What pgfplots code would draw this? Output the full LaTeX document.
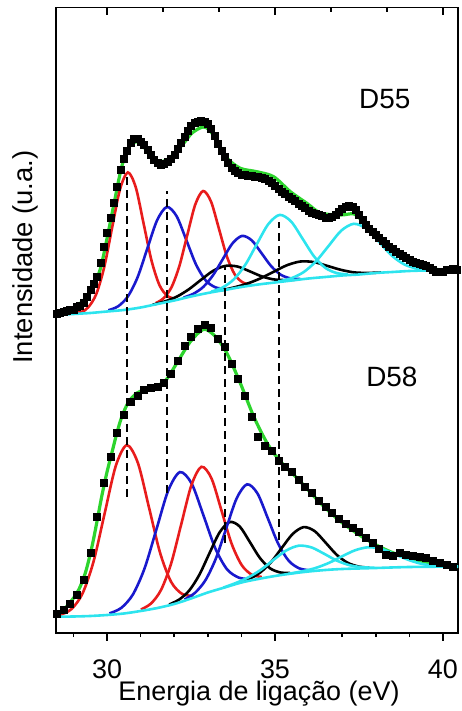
\documentclass[border=0pt]{standalone}
\usepackage{fontspec}
\setmainfont{Liberation Sans}
\usepackage{pgfplots}
\pgfplotsset{compat=1.18}

\definecolor{fitred}{RGB}{232,28,28}
\definecolor{fitblue}{RGB}{25,25,205}
\definecolor{fitcyan}{RGB}{45,228,238}
\definecolor{fitgreen}{RGB}{45,212,45}

\pgfplotsset{
  comp/.style={smooth, tension=0.5, line width=2.6bp, no markers},
  env/.style={smooth, tension=0.5, line width=3.2bp, fitgreen, no markers},
  meas/.style={only marks, mark=square*, mark size=3.5bp, black},
  guide/.style={black, line width=2bp, dash pattern=on 8bp off 5bp, no markers},
}

\begin{document}
\begin{tikzpicture}
\begin{axis}[
  at={(0,0)}, anchor=south west,
  scale only axis, width=402bp, height=625.5bp,
  xmin=28.48, xmax=40.45, ymin=0, ymax=625.5,
  axis line style={line width=1.6bp},
  xtick={30,35,40}, xticklabels={30,35,40},
  minor xtick={29,31,32,33,34,36,37,38,39},
  xtick pos=lower, tick align=outside,
  major tick length=7.5bp, minor tick length=4bp,
  tick style={line width=1.6bp, black},
  ytick=\empty,
  xticklabel style={font=\fontsize{27}{27}\selectfont, anchor=base, yshift=-38bp},
  xlabel={Energia de ligação (eV)},
  ylabel={Intensidade (u.a.)},
  every axis x label/.style={at={(axis description cs:0.505,0)}, anchor=base, yshift=-67bp, font=\fontsize{27}{27}\selectfont},
  every axis y label/.style={at={(axis description cs:-0.0771,0.601)}, anchor=center, rotate=90, font=\fontsize{27.5}{27.5}\selectfont},
]

% ---------------- D55 (upper spectrum) ----------------
\addplot[meas] coordinates {
(28.5,319.5)(28.6,320)(28.7,321.5)(28.8,322)(28.9,323)(29.0,323.5)(29.1,326)(29.2,327)(29.3,330)(29.4,336)
(29.5,343)(29.6,349)(29.7,356)(29.8,370)(29.9,386)(30.0,400)(30.1,415)(30.2,430)(30.3,446)(30.4,463)
(30.5,474)(30.6,482)(30.7,490)(30.8,494)(30.9,494)(31.0,491)(31.1,488)(31.2,483)(31.3,478)(31.4,473)
(31.5,470)(31.6,468)(31.7,469)(31.8,471)(31.9,474)(32.0,478)(32.1,484)(32.2,490)(32.3,496)(32.4,502)
(32.5,507)(32.6,510)(32.7,511)(32.8,512)(32.9,511)(33.0,509)(33.1,504)(33.2,497)(33.3,489)(33.4,482)
(33.5,476)(33.6,470)(33.7,465)(33.8,462)(33.9,460)(34.0,458)(34.1,458)(34.2,457)(34.3,457)(34.4,456)
(34.5,456)(34.6,455)(34.7,454)(34.8,452)(34.9,450)(35.0,447)(35.1,444)(35.2,441)(35.3,439)(35.4,436)
(35.5,434)(35.6,432)(35.7,429)(35.8,427)(35.9,425)(36.0,422)(36.1,420)(36.2,419)(36.3,418)(36.4,417)
(36.5,415)(36.6,415)(36.7,416)(36.8,418)(36.9,421)(37.0,424)(37.1,426)(37.2,427)(37.3,426)(37.4,423)
(37.5,418)(37.6,413)(37.7,408)(37.8,404)(37.9,401)(38.0,398)(38.1,395)(38.2,392)(38.3,389)(38.4,386)
(38.5,384)(38.6,381)(38.7,379)(38.8,377)(38.9,375)(39.0,373)(39.1,371)(39.2,370)(39.3,369)(39.4,368)
(39.5,367)(39.6,365)(39.7,363)(39.8,361)(39.9,361)(40.0,361)(40.1,363)(40.2,363)(40.3,364)(40.4,363)
};
\addplot[env] coordinates {
(28.48,321)(29.0,324.7)(29.49,339.7)(29.79,363)(29.99,393)(30.19,426.3)(30.39,459.7)(30.54,478)
(30.69,488)(30.89,491.3)(31.09,486.3)(31.29,477)(31.58,471.3)(31.88,475.5)(32.28,489.7)(32.53,500)
(32.85,506)(33.05,503)(33.27,492)(33.57,475)(33.97,464.7)(34.46,461.3)(34.96,456.3)(35.46,441.3)
(35.95,429.7)(36.36,420)(36.96,418)(37.36,419)(37.65,410)(37.95,398)(38.45,384)(38.95,372.5)
(39.45,365.5)(40.0,363)(40.45,363)
};
% components
\addplot[comp, fitred] coordinates {
(28.6,318.3)(29.21,320.9)(29.445,325.9)(29.68,339.0)(29.915,365.7)(30.15,405.1)(30.385,443.6)(30.62,460.6)
(30.855,445.7)(31.09,409.2)(31.325,372.3)(31.56,347.9)(31.795,337.1)(32.03,334.2)};
\addplot[comp, fitblue] coordinates {
(30.04,322.7)(30.33,326.7)(30.62,336.5)(30.91,355.8)(31.20,384.5)(31.49,412.7)(31.78,426.0)
(32.07,416.9)(32.36,393.0)(32.65,368.4)(32.94,352.5)(33.23,345.6)(33.52,344.2)};
\addplot[comp, fitred] coordinates {
(31.45,329.8)(31.685,334.8)(31.92,345.8)(32.155,367.1)(32.39,398.1)(32.625,428.3)(32.86,442.0)
(33.095,431.5)(33.33,404.5)(33.565,376.8)(33.80,358.7)(34.035,350.7)(34.27,348.5)};
\addplot[comp, black] coordinates {
(31.36,328.3)(31.72,331.6)(32.08,336.4)(32.44,343.8)(32.80,353.2)(33.16,362.2)(33.52,367.1)
(33.88,366.5)(34.24,361.8)(34.60,356.7)(34.96,353.6)(35.32,352.9)(35.68,353.5)};
\addplot[comp, fitblue] coordinates {
(32.28,335.4)(32.57,339.2)(32.86,345.9)(33.15,357.5)(33.44,373.5)(33.73,389.4)(34.02,397.1)
(34.31,392.6)(34.60,379.8)(34.89,366.7)(35.18,358.1)(35.47,354.6)(35.76,354.1)};
\addplot[comp, black] coordinates {
(33.36,342.4)(33.76,345.4)(34.16,349.2)(34.56,354.5)(34.96,361.2)(35.36,367.8)(35.76,371.5)
(36.16,370.9)(36.56,367.1)(36.96,363.2)(37.36,360.6)(37.76,360.1)(38.16,360.5)};
\addplot[comp, fitcyan] coordinates {
(33.10,341.3)(33.44,345.5)(33.78,353.8)(34.12,368.4)(34.46,388.9)(34.80,408.8)(35.14,418.1)
(35.48,411.5)(35.82,394.4)(36.16,376.8)(36.50,365.1)(36.84,359.9)(37.18,358.6)};
\addplot[comp, fitcyan] coordinates {
(35.10,351.5)(35.475,354.6)(35.85,360.8)(36.225,371.8)(36.60,387.2)(36.975,402.4)(37.35,409.2)
(37.725,404.2)(38.10,391.1)(38.475,377.5)(38.85,368.6)(39.225,364.4)(39.60,363.0)(40.45,363)};
% background
\addplot[comp, fitcyan] coordinates {
(28.48,318)(29.0,319)(29.5,320)(30.0,321.5)(30.5,323)(31.0,325.5)(31.5,329)(32.0,332.5)(32.5,336.5)
(33.0,340)(33.5,343)(34.0,346)(34.5,348.5)(35.0,350.5)(35.5,352.5)(36.0,354.5)(36.5,356)(37.0,357.5)
(37.5,358.5)(38.0,360)(38.5,361)(39.0,362)(39.5,362.5)(40.45,363)};

% ---------------- D58 (lower spectrum) ----------------
\addplot[meas] coordinates {
(28.5,19)(28.7,23)(28.9,29.7)(29.1,38)(29.3,53)(29.5,80)(29.7,116)(29.9,150)(30.1,176)(30.3,200)
(30.5,218)(30.7,231)(30.9,237)(31.1,243)(31.3,245)(31.5,246)(31.7,250)(31.9,259)(32.1,272)(32.3,287)
(32.5,296)(32.7,304)(32.9,308)(33.1,305)(33.3,294)(33.5,286)(33.7,269)(33.9,254)(34.1,237)(34.3,216)
(34.5,196)(34.7,187)(34.9,182)(35.1,172)(35.3,166)(35.5,161)(35.7,153)(35.9,146)(36.1,140)(36.3,132)
(36.5,126)(36.7,120)(36.9,114)(37.1,109)(37.3,105)(37.5,101)(37.7,95)(37.9,90)(38.1,84)(38.3,78)
(38.5,77)(38.7,80)(38.9,78)(39.1,77)(39.3,76)(39.5,75)(39.7,72)(39.9,70)(40.1,68)(40.3,66.5)
};
\addplot[env] coordinates {
(28.48,18)(28.70,23)(29.10,39.7)(29.35,59.7)(29.55,86.3)(29.69,109.7)(29.84,136.3)(29.99,159.7)
(30.14,179.7)(30.29,199.7)(30.44,216.3)(30.64,231)(30.89,240)(31.14,243.5)(31.39,246)(31.73,252)
(32.08,270)(32.48,291.3)(32.88,303.7)(33.23,296.3)(33.57,279.7)(33.97,249.7)(34.37,216.3)(34.77,189.7)
(35.17,171.3)(35.76,151.3)(36.36,129.7)(36.96,111.3)(37.75,93)(38.55,79.7)(39.44,71.3)(40.45,66.3)
};
\addplot[comp, fitred] coordinates {
(28.48,17.5)(28.61,18.2)(28.94,23.9)(29.27,39.5)(29.60,71.7)(29.93,119.8)(30.26,167.1)(30.59,187.9)
(30.92,169.9)(31.25,125.4)(31.58,80.1)(31.91,51.0)(32.24,39.0)(32.57,37.2)};
\addplot[comp, fitblue] coordinates {
(30.07,19.6)(30.42,25.0)(30.77,38.5)(31.12,64.9)(31.47,103.6)(31.82,142.3)(32.17,160.9)
(32.52,149.4)(32.87,117.7)(33.22,84.9)(33.57,63.8)(33.92,55.4)(34.27,53.8)};
\addplot[comp, fitred] coordinates {
(31.01,23.5)(31.31,29.5)(31.61,43.2)(31.91,69.7)(32.21,108.9)(32.51,147.6)(32.81,166.2)
(33.11,154.6)(33.41,122.2)(33.71,89.2)(34.01,67.9)(34.31,58.3)(34.61,56.1)};
\addplot[comp, black] coordinates {
(31.85,28.5)(32.15,33.5)(32.45,42.6)(32.75,58.3)(33.05,79.8)(33.35,100.5)(33.65,111.0)
(33.95,106.5)(34.25,91.1)(34.55,75.1)(34.85,64.8)(35.15,60.6)(35.45,60.0)};
\addplot[comp, fitblue] coordinates {
(32.31,33.5)(32.62,40.2)(32.93,52.8)(33.24,74.4)(33.55,104.8)(33.86,134.7)(34.17,148.7)
(34.48,139.5)(34.79,114.5)(35.10,89.0)(35.41,72.2)(35.72,64.7)(36.03,62.7)};
\addplot[comp, black] coordinates {
(33.91,50.1)(34.235,54.1)(34.56,60.5)(34.885,70.9)(35.21,85.4)(35.535,99.3)(35.86,105.9)
(36.185,101.8)(36.51,90.3)(36.835,78.3)(37.16,70.3)(37.485,66.5)(37.81,65.3)};
\addplot[comp, fitcyan] coordinates {
(33.46,45.4)(33.835,50.0)(34.21,55.7)(34.585,63.3)(34.96,73.2)(35.335,82.5)(35.71,87.3)
(36.085,85.6)(36.46,79.3)(36.835,72.5)(37.21,67.9)(37.585,65.8)(37.96,65.3)};
\addplot[comp, fitcyan] coordinates {
(35.40,59.2)(35.80,61.6)(36.20,64.9)(36.60,70.0)(37.00,76.7)(37.40,82.9)(37.80,85.8)
(38.20,83.7)(38.60,78.3)(39.00,72.8)(39.40,68.9)(39.80,67.2)(40.20,66.6)(40.45,66.5)};
\addplot[comp, fitcyan] coordinates {
(28.48,16.3)(29.0,16.5)(29.5,17)(30.0,18)(30.5,19.5)(31.0,22)(31.5,25)(32.0,29)(32.5,34.5)
(33.0,40.5)(33.5,45.5)(34.0,50.5)(34.5,54)(35.0,57)(35.5,59.5)(36.0,61.5)(36.5,63)(37.0,64)
(38.0,65)(39.0,66)(40.45,66.5)};

% ---------------- peak guides ----------------
\addplot[guide] coordinates {(30.59,136) (30.59,460)};
\addplot[guide] coordinates {(31.78,140) (31.78,442)};
\addplot[guide] coordinates {(33.50,90) (33.50,368)};
\addplot[guide] coordinates {(35.13,93) (35.13,411)};

\node[font=\fontsize{28}{28}\selectfont] at (axis cs:38.27,534) {D55};
\node[font=\fontsize{28}{28}\selectfont] at (axis cs:38.48,256) {D58};
\end{axis}

% ticks along the top edge
\begin{axis}[
  at={(0,0)}, anchor=south west,
  scale only axis, width=402bp, height=625.5bp,
  xmin=28.48, xmax=40.45, ymin=0, ymax=625.5,
  axis x line*=top, axis y line=none,
  axis line style={line width=1.6bp, -},
  xtick={30,35,40}, xticklabels={},
  minor xtick={31.667,33.333,36.667,38.333},
  xtick align=inside,
  major tick length=7.5bp, minor tick length=4.3bp,
  tick style={line width=1.6bp, black},
]
\end{axis}

\pgfresetboundingbox
\path[use as bounding box] (-56bp,-78bp) rectangle (406bp,633bp);
\end{tikzpicture}
\end{document}
